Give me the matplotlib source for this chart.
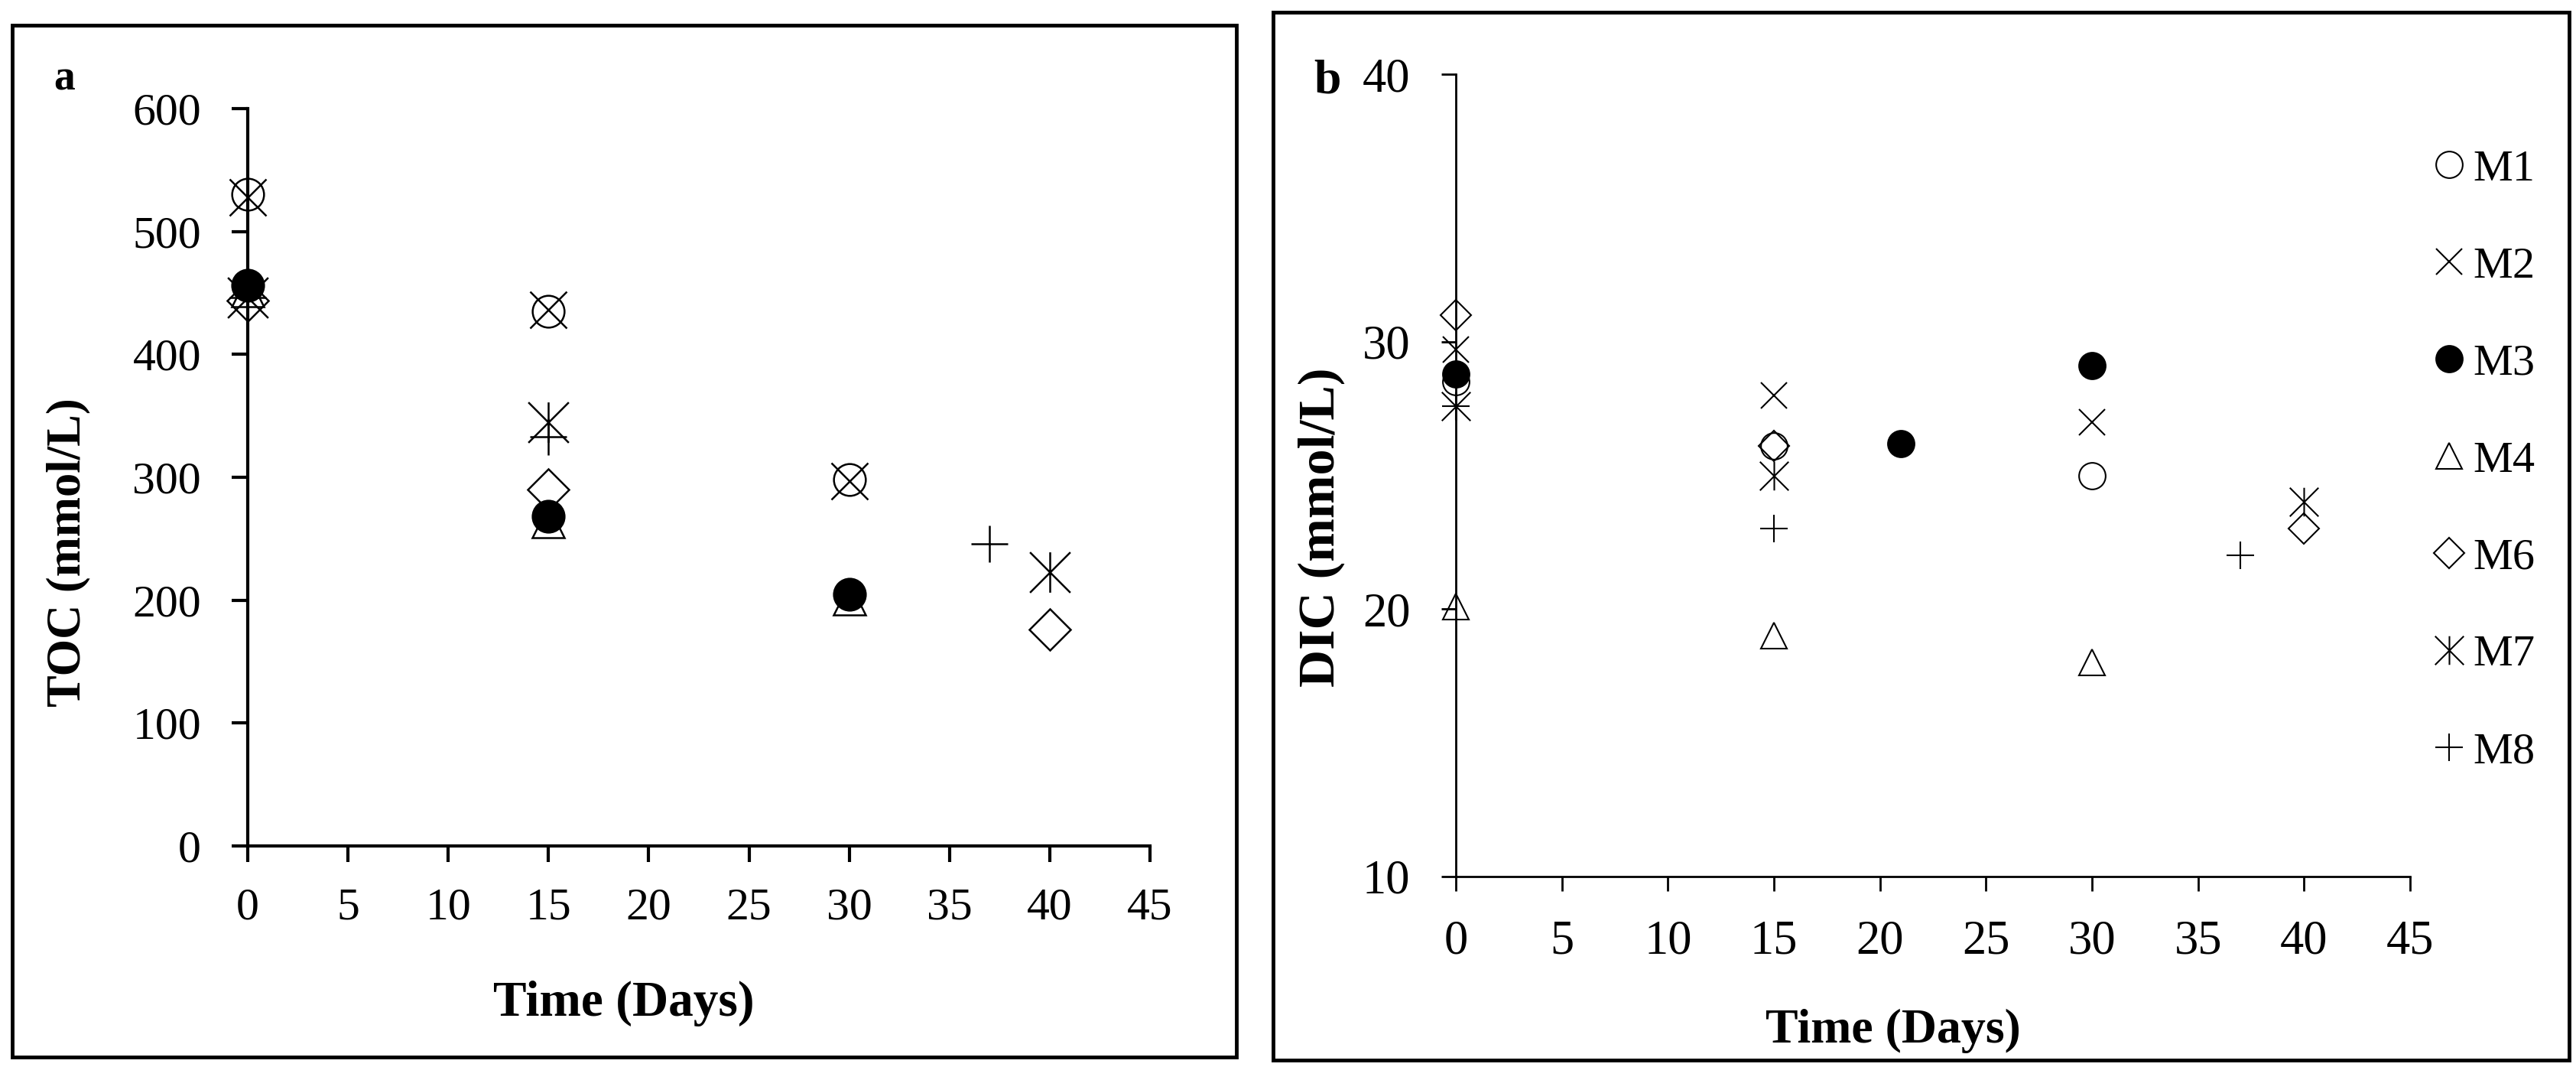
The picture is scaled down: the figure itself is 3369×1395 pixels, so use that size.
import matplotlib
matplotlib.use("Agg")
import matplotlib.pyplot as plt
from matplotlib.path import Path
from matplotlib.patches import Rectangle

# series names and days / values
series = ["M1", "M2", "M3", "M4", "M6", "M7", "M8"]

toc_days = {"M1": [0, 15, 30], "M2": [0, 15, 30], "M3": [0, 15, 30], "M4": [0, 15, 30],
            "M6": [0, 15, 40], "M7": [0, 15, 40], "M8": [0, 15, 37]}
toc_vals = {"M1": [530, 435, 298], "M2": [528, 436, 297], "M3": [456, 268, 205],
            "M4": [452, 264, 201], "M6": [444, 290, 176], "M7": [446, 345, 223],
            "M8": [446, 333, 246]}

dic_days = {"M1": [0, 15, 30], "M2": [0, 15, 30], "M3": [0, 21, 30], "M4": [0, 15, 30],
            "M6": [0, 15, 40], "M7": [0, 15, 40], "M8": [0, 15, 37]}
dic_vals = {"M1": [28.5, 26.1, 25.0], "M2": [29.7, 28.0, 27.0], "M3": [28.8, 26.2, 29.1],
            "M4": [20.1, 19.0, 18.0], "M6": [31.0, 26.1, 23.0], "M7": [27.6, 25.0, 24.0],
            "M8": [27.6, 23.0, 22.0]}

x_ticks = [0, 5, 10, 15, 20, 25, 30, 35, 40, 45]
toc_ticks = [0, 100, 200, 300, 400, 500, 600]
dic_ticks = [10, 20, 30, 40]

# excel style "star" marker: an x with a vertical bar
star = Path([(-0.5, -0.5), (0.5, 0.5), (-0.5, 0.5), (0.5, -0.5), (0, -0.5), (0, 0.5)],
            [Path.MOVETO, Path.LINETO, Path.MOVETO, Path.LINETO, Path.MOVETO, Path.LINETO])

markers = {"M1": ("o", "none"), "M2": ("x", "none"), "M3": ("o", "black"),
           "M4": ("^", "none"), "M6": ("D", "none"), "M7": (star, "none"),
           "M8": ("+", "none")}
# marker sizes (points) per panel
size_a = {"M1": 30, "M2": 35, "M3": 30, "M4": 30, "M6": 27, "M7": 38, "M8": 35}
size_b = {"M1": 25, "M2": 25, "M3": 25, "M4": 25, "M6": 20, "M7": 27, "M8": 26}

plt.rcParams["font.family"] = ["Liberation Serif", "DejaVu Serif"]

W, H = 3369, 1395
fig = plt.figure(figsize=(W / 100, H / 100), dpi=100)


def px_ax(x0, x1, ytop, ybot):
    return [x0 / W, 1 - ybot / H, (x1 - x0) / W, (ybot - ytop) / H]


def draw(ax, days, vals, sizes, mew):
    for name in series:
        m, fc = markers[name]
        ax.plot(days[name], vals[name], linestyle="none", marker=m, ms=sizes[name],
                mfc=fc, mec="black", mew=mew, color="black", clip_on=False,
                label=name, zorder=3)


def style(ax, lw, tlen, fs, ypad, xpad):
    for s in ["top", "right"]:
        ax.spines[s].set_visible(False)
    for s in ["left", "bottom"]:
        ax.spines[s].set_linewidth(lw)
    ax.tick_params(direction="out", length=tlen, width=lw, labelsize=fs)
    ax.tick_params(axis="y", pad=ypad)
    ax.tick_params(axis="x", pad=xpad)


# panel a
ax1 = fig.add_axes(px_ax(324, 1504, 142, 1106))
draw(ax1, toc_days, toc_vals, size_a, 1.8)
ax1.set_xlim(0, 45)
ax1.set_ylim(0, 600)
ax1.set_xticks(x_ticks)
ax1.set_yticks(toc_ticks)
style(ax1, 3, 15, 43, 29, 24)

# panel b
ax2 = fig.add_axes(px_ax(1904, 3152, 97, 1146))
draw(ax2, dic_days, dic_vals, size_b, 1.5)
ax2.set_xlim(0, 45)
ax2.set_ylim(10, 40)
ax2.set_xticks(x_ticks)
ax2.set_yticks(dic_ticks)
style(ax2, 2, 14, 45, 29, 27)

ax2.legend(loc="upper left", bbox_to_anchor=(3185 / W, 1 - 195 / H),
           bbox_transform=fig.transFigure, frameon=False, fontsize=42,
           handlelength=0.6, handletextpad=0.25, labelspacing=1.27, borderpad=0,
           borderaxespad=0)

# axis titles and panel letters
fig.text(816 / W, 1 - 1312 / H, "Time (Days)", ha="center", va="center",
         fontsize=47, fontweight="bold")
fig.text(89 / W, 1 - 722 / H, "TOC (mmol/L)", ha="center", va="center",
         rotation=90, fontsize=45, fontweight="bold")
fig.text(2476 / W, 1 - 1348 / H, "Time (Days)", ha="center", va="center",
         fontsize=46, fontweight="bold")
fig.text(1728 / W, 1 - 689 / H, "DIC (mmol/L)", ha="center", va="center",
         rotation=90, fontsize=49, fontweight="bold")
fig.text(84 / W, 1 - 103 / H, "a", ha="center", va="center", fontsize=40,
         fontweight="bold")
fig.text(1736 / W, 1 - 106 / H, "b", ha="center", va="center", fontsize=46,
         fontweight="bold")

# frames round each panel
for x0, x1, y0, y1 in [(16, 1617, 33, 1382), (1665, 3360, 16, 1386)]:
    fig.patches.append(Rectangle((x0 / W, 1 - y1 / H), (x1 - x0) / W, (y1 - y0) / H,
                                 transform=fig.transFigure, fill=False,
                                 edgecolor="black", linewidth=3.5))

fig.savefig("out.png", dpi=100)
